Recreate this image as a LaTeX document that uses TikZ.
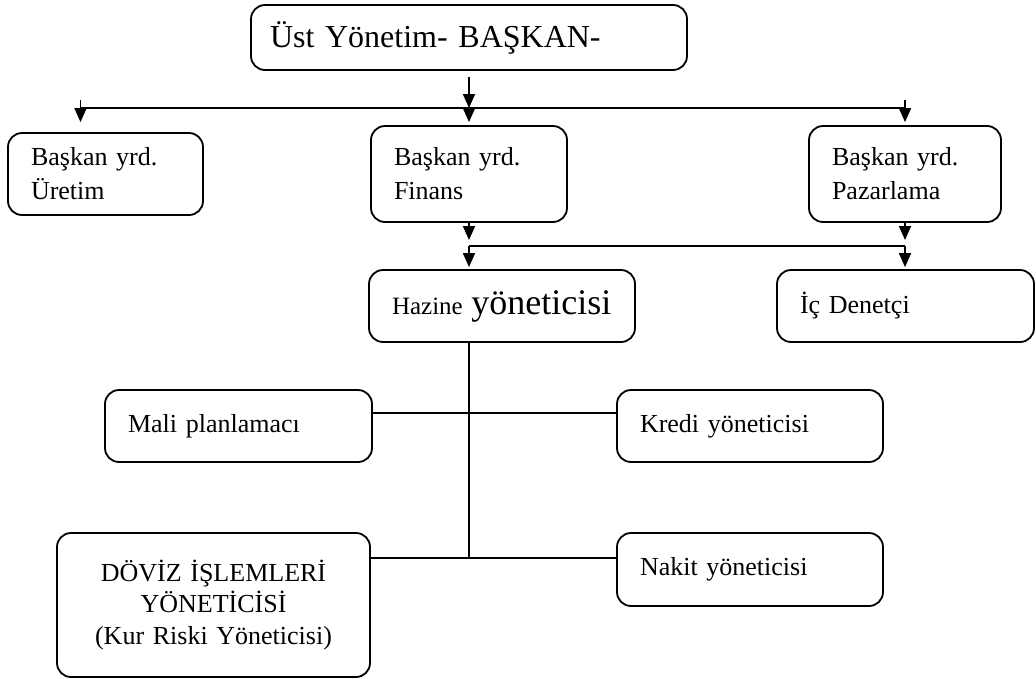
\documentclass[tikz,border=0pt]{standalone}
\usepackage{fontspec}
\setmainfont{Liberation Serif}
\usetikzlibrary{arrows.meta}
\tikzset{
  kutu/.style={draw,rounded corners=14pt,line width=1.8pt,align=left,inner xsep=23pt,inner ysep=0pt},
  ok/.style={-{Triangle[length=14pt,width=12pt]},line width=1.8pt},
}
\begin{document}
\begin{tikzpicture}[x=1pt,y=-1pt,line width=1.8pt,font=\fontsize{26}{34}\selectfont]
\useasboundingbox (0,0) rectangle (1036,678);
%boxes
\node[kutu,inner xsep=19pt,text width=398pt,minimum height=65pt,font=\fontsize{32}{40}\selectfont] (ust) at (469,37.5) {Üst Yönetim- BAŞKAN-};
\node[kutu,text width=149pt,minimum height=82pt] (uretim) at (105.5,174) {Başkan yrd.\\Üretim};
\node[kutu,text width=150pt,minimum height=96pt] (finans) at (469,174) {Başkan yrd.\\Finans};
\node[kutu,text width=146pt,minimum height=96pt] (pazar) at (905,174) {Başkan yrd.\\Pazarlama};
\node[kutu,text width=220pt,minimum height=72pt] (hazine) at (502,306) {{\fontsize{25}{30}\selectfont Hazine} {\fontsize{36}{40}\selectfont yöneticisi}};
\node[kutu,text width=211pt,minimum height=72pt] (denetci) at (905.5,306) {İç Denetçi};
\node[kutu,text width=221pt,minimum height=72pt] (mali) at (238.5,426) {Mali planlamacı};
\node[kutu,text width=220pt,minimum height=72pt] (kredi) at (750,426) {Kredi yöneticisi};
\node[kutu,text width=220pt,minimum height=73pt] (nakit) at (750,569.5) {Nakit yöneticisi};
\node[kutu,align=center,text width=267pt,minimum height=144pt,font=\fontsize{26}{31.5}\selectfont] (doviz) at (213.5,605) {DÖVİZ İŞLEMLERİ\\YÖNETİCİSİ\\(Kur Riski Yöneticisi)};
%joints
\coordinate (bus) at (469,108);
\coordinate (tick) at (469,100);
\coordinate (bus2) at (469,246);
\coordinate (j1) at (469,413);
\coordinate (j2) at (469,558);
%top level
\draw[ok,shorten <=6pt] (ust) -- (bus);
\draw ([xshift=-25pt]uretim.north |- bus) -- (pazar.north |- bus);
\draw[ok,shorten >=10pt] ([xshift=-25pt]uretim.north |- tick) -- ([xshift=-25pt]uretim.north);
\draw[ok,shorten >=3pt] (bus) -- (finans.north);
\draw[ok,shorten >=3pt] (pazar.north |- tick) -- (pazar.north);
%second level
\draw[ok,shorten >=3pt] (finans.south) -- ([yshift=3pt]finans.south |- bus2);
\draw[ok,shorten >=3pt] (pazar.south) -- ([yshift=3pt]pazar.south |- bus2);
\draw (finans.south |- bus2) -- (pazar.south |- bus2);
\draw[ok,shorten >=2pt] (bus2) -- (hazine.north -| bus2);
\draw[ok,shorten >=2pt] (pazar.south |- bus2) -- (pazar.south |- denetci.north);
%treasury
\draw (hazine.south -| j1) -- (j2);
\draw (mali.east |- j1) -- (kredi.west |- j1);
\draw (doviz.east |- j2) -- (nakit.west |- j2);
\end{tikzpicture}
\end{document}
